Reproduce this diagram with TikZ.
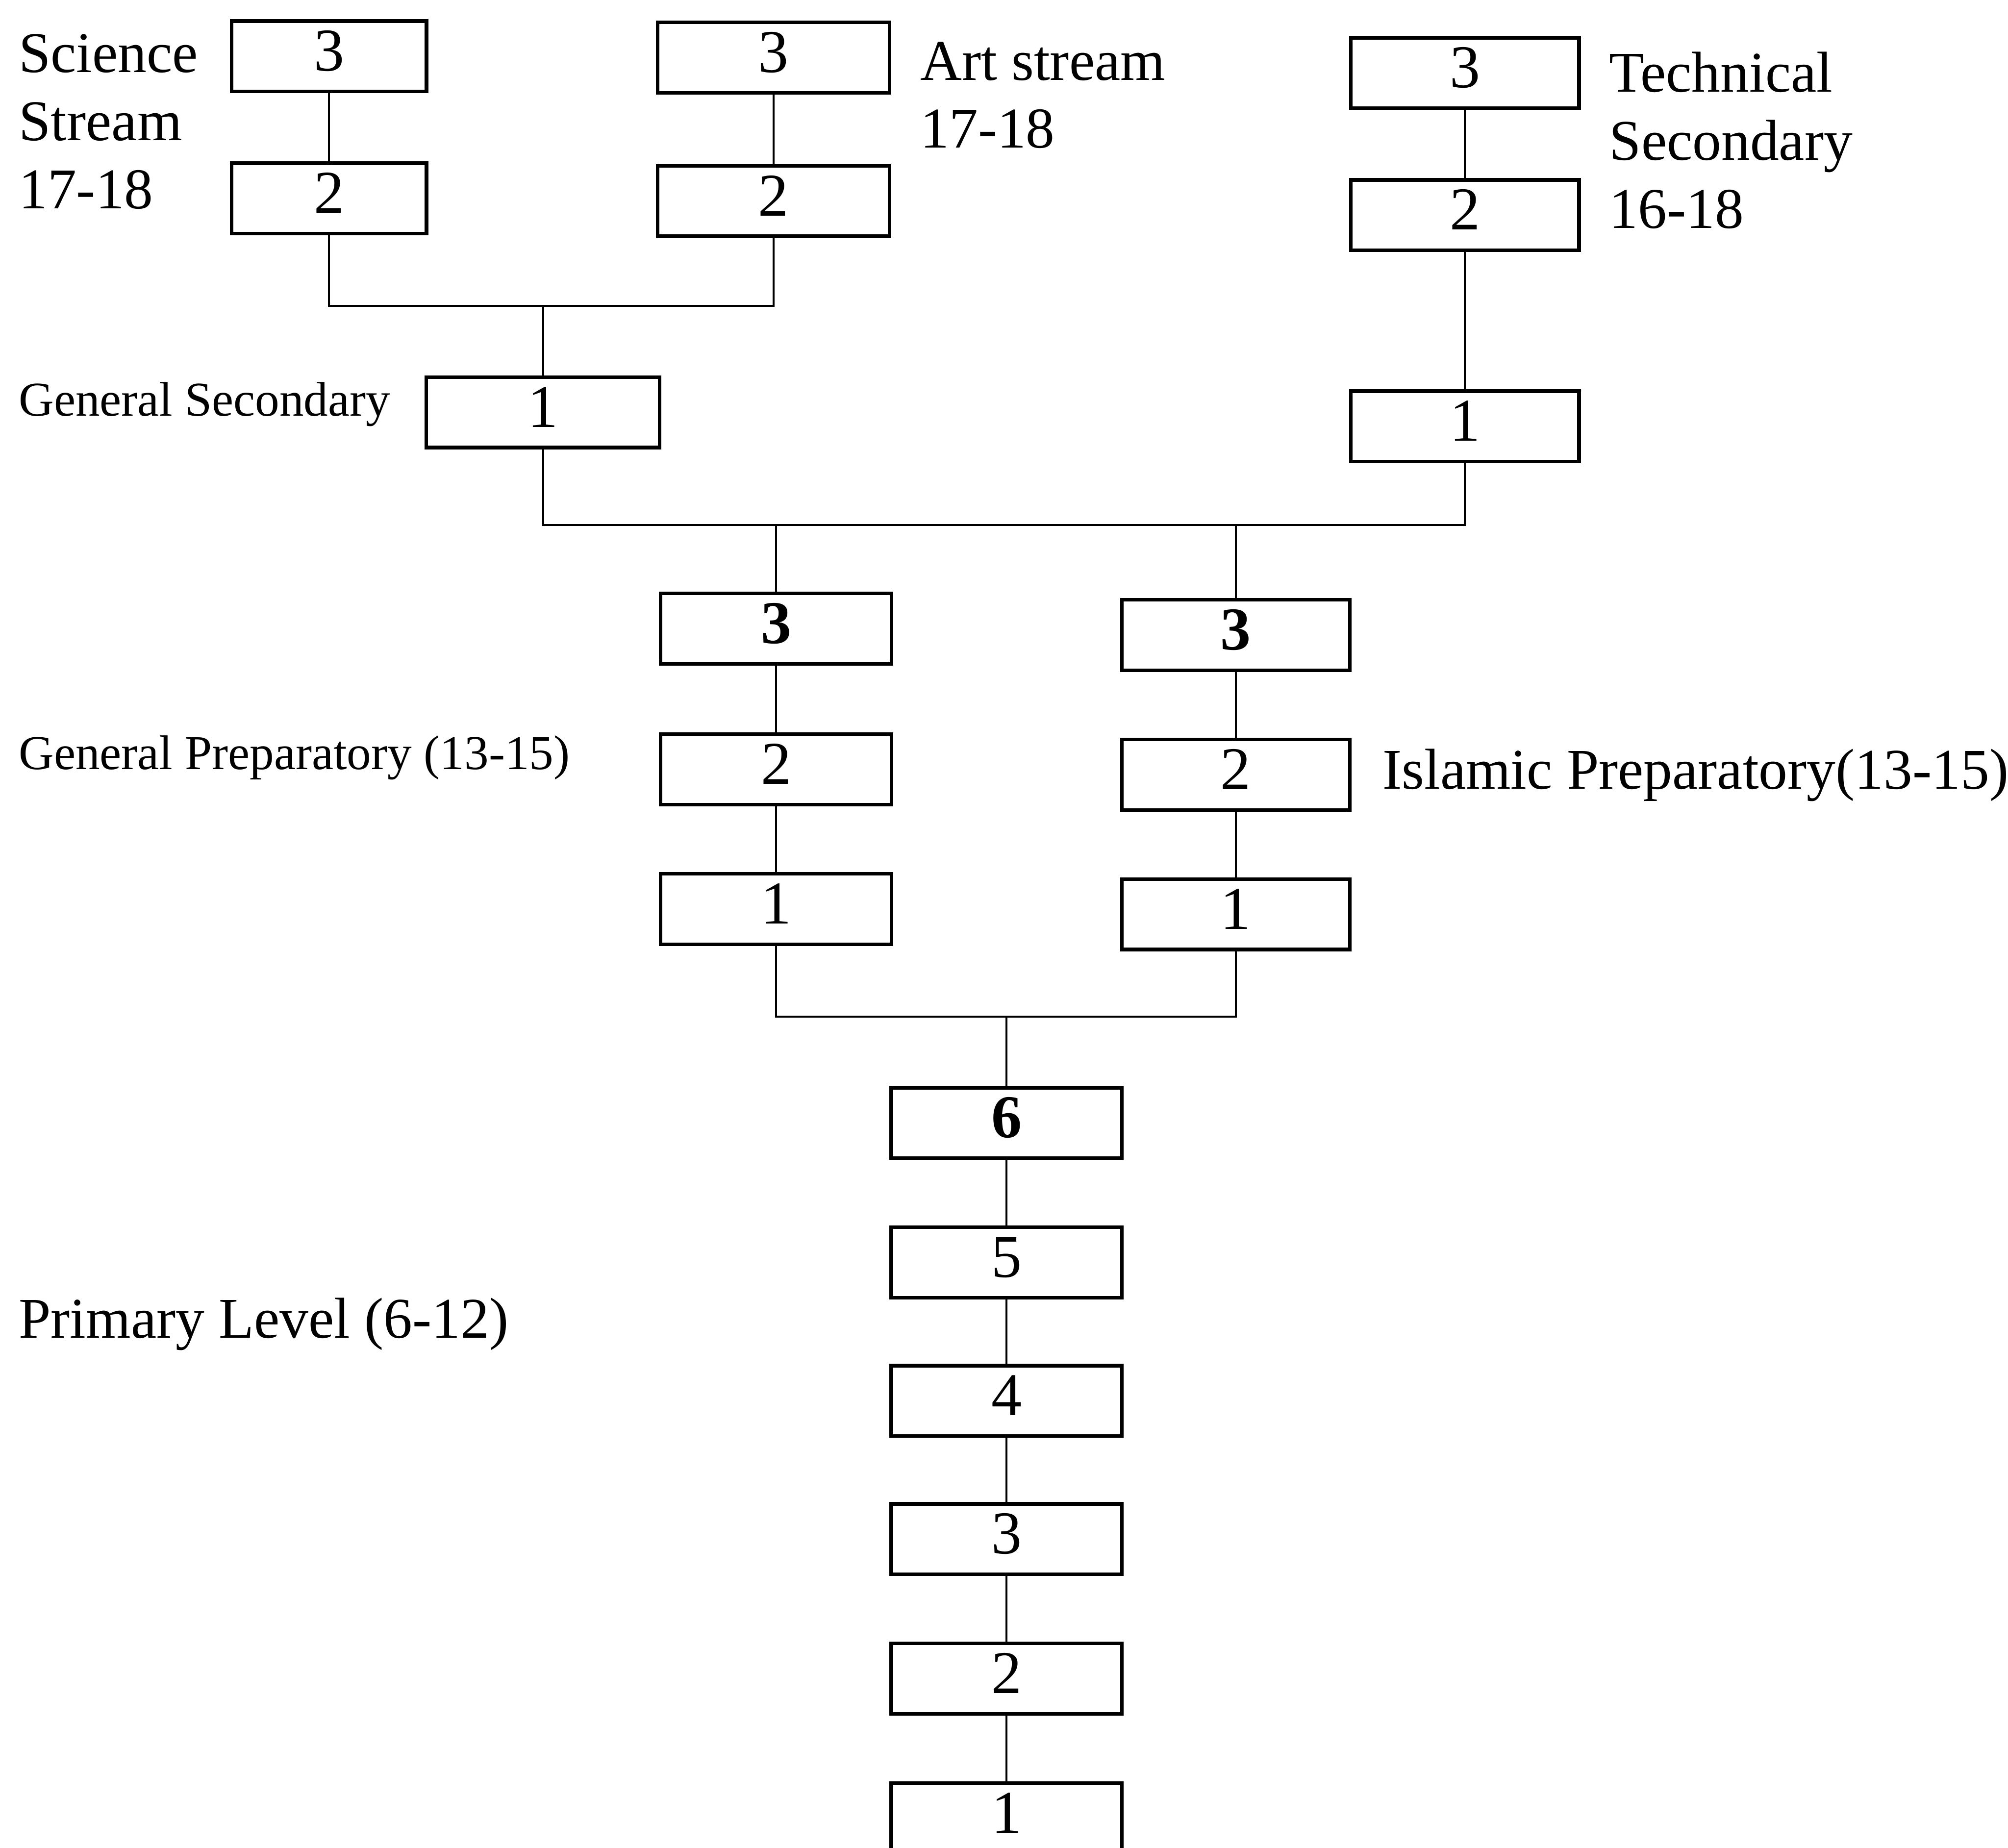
\documentclass[tikz,border=0pt]{standalone}
\usepackage{fontspec}
\setmainfont{Liberation Serif}
\tikzset{
  yr/.style={draw,line width=0.8pt,rectangle,minimum width=1.8cm,minimum height=0.55cm,inner sep=0pt,text depth=2.4pt,font=\fontsize{13.5}{15}\selectfont},
  link/.style={line width=0.45pt},
  lbl/.style={inner sep=0pt,align=left,font=\fontsize{12.8}{15.1}\selectfont},
  sml/.style={inner sep=0pt,font=\fontsize{10.8}{13}\selectfont}
}
\begin{document}
\begin{tikzpicture}[x=0.01cm,y=-0.01cm]
\useasboundingbox (0,0) rectangle (1568,1443);
\node[yr,minimum width=1.52cm] (sci3) at (257,44) {3};
\node[yr,minimum width=1.52cm] (sci2) at (257,155) {2};
\node[yr,minimum width=1.81cm] (art3) at (604,45) {3};
\node[yr,minimum width=1.81cm] (art2) at (604,157) {2};
\node[yr,minimum width=1.78cm] (tec3) at (1144,57) {3};
\node[yr,minimum width=1.78cm] (tec2) at (1144,168) {2};
\node[yr,minimum width=1.78cm] (tec1) at (1144,333) {1};
\node[yr,minimum width=1.82cm] (gs1) at (424,322) {1};
\node[yr] (gp3) at (606,491) {\textbf{3}};
\node[yr] (gp2) at (606,601) {2};
\node[yr] (gp1) at (606,710) {1};
\node[yr,minimum width=1.78cm] (ip3) at (965,496) {\textbf{3}};
\node[yr,minimum width=1.78cm] (ip2) at (965,605) {2};
\node[yr,minimum width=1.78cm] (ip1) at (965,714) {1};
\node[yr] (p6) at (786,877) {\textbf{6}};
\foreach \n/\y in {5/986,4/1094,3/1202,2/1311,1/1420}
\node[yr] (p\n) at (786,\y) {\n};
\node[lbl,anchor=north west] (scilbl) at (14,26) {Science\\Stream\\17-18};
\node[lbl,anchor=north west] (artlbl) at (718,32) {Art stream\\17-18};
\node[lbl,anchor=north west] (teclbl) at (1256,40) {Technical\\Secondary\\16-18};
\node[sml,anchor=base west] (gslbl) at (14,325) {General Secondary};
\node[sml,anchor=base west] (gplbl) at (14,601) {General Preparatory (13-15)};
\node[lbl,anchor=base west] (iplbl) at (1079,616) {Islamic Preparatory(13-15)};
\node[lbl,anchor=base west] (plbl) at (14,1045) {Primary Level (6-12)};
\coordinate (jsa) at (424,239);
\coordinate (jsec) at (785,410);
\coordinate (jprep) at (786,794);
\draw[link] (sci3) -- (sci2);
\draw[link] (art3) -- (art2);
\draw[link] (tec3) -- (tec2) -- (tec1);
\draw[link] (sci2) |- (jsa) -| (art2);
\draw[link] (jsa) -- (gs1);
\draw[link] (gs1) |- (jsec) -| (tec1);
\draw[link] (gp3) -- (gp3 |- jsec);
\draw[link] (ip3) -- (ip3 |- jsec);
\draw[link] (gp3) -- (gp2) -- (gp1);
\draw[link] (ip3) -- (ip2) -- (ip1);
\draw[link] (gp1) |- (jprep) -| (ip1);
\draw[link] (jprep) -- (p6);
\foreach \a/\b in {6/5,5/4,4/3,3/2,2/1}
\draw[link] (p\a) -- (p\b);
\end{tikzpicture}
\end{document}
